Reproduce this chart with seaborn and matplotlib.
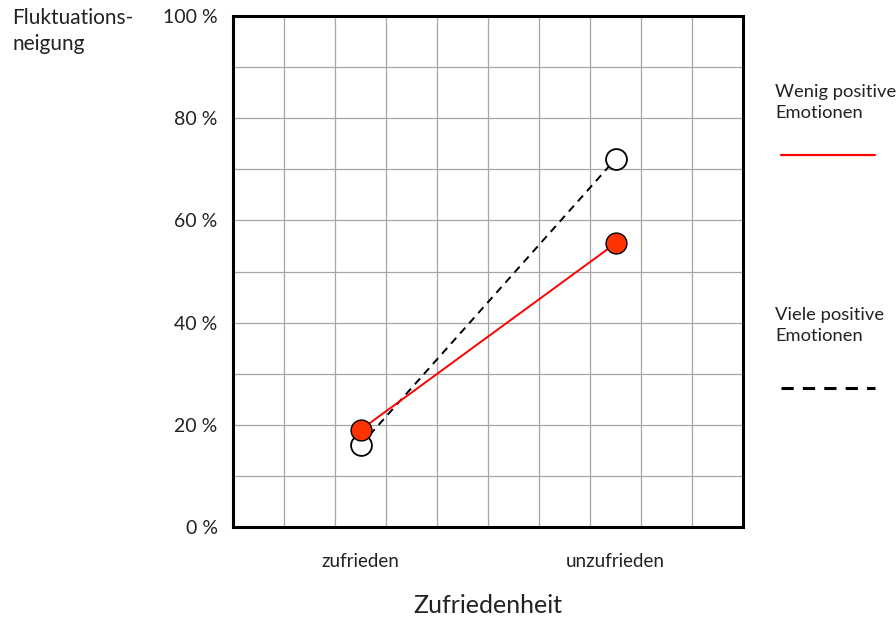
import matplotlib
matplotlib.use("Agg")
import matplotlib.pyplot as plt
from matplotlib.lines import Line2D
from matplotlib.ticker import MultipleLocator, FuncFormatter
import seaborn as sns
import pandas as pd
import numpy as np

# Daten
kategorien = ["zufrieden", "unzufrieden"]
wenig_positiv = [19, 55.5]
viele_positiv = [16, 72]

sns.set_style("white")
plt.rcParams['font.family'] = ['Lato', 'DejaVu Sans']

df = pd.DataFrame({
    "pos": np.arange(len(kategorien)).tolist() * 2,
    "wert": wenig_positiv + viele_positiv,
    "gruppe": ["Wenig"] * 2 + ["Viele"] * 2,
})

fig = plt.figure(figsize=(8.96, 6.21), dpi=100)
ax = fig.add_axes([233 / 896, 1 - 527 / 621, 510 / 896, 511 / 621])

# Viele positive Emotionen (gestrichelt, weisse Punkte)
sns.lineplot(data=df[df.gruppe == "Viele"], x="pos", y="wert", ax=ax,
             color="black", linestyle=(0, (4, 3)), linewidth=1.4,
             marker="o", markersize=15, markerfacecolor="white",
             markeredgecolor="black", markeredgewidth=1.3, zorder=3)

# Wenig positive Emotionen (rot, rote Punkte)
sns.lineplot(data=df[df.gruppe == "Wenig"], x="pos", y="wert", ax=ax,
             color="#ff0000", linewidth=1.4,
             marker="o", markersize=15, markerfacecolor="#ff3300",
             markeredgecolor="black", markeredgewidth=1.0, zorder=4)

ax.set_xlim(-0.5, 1.5)
ax.set_ylim(0, 100)

# Gitter
ax.yaxis.set_major_locator(MultipleLocator(20))
ax.set_xticks(range(len(kategorien)))
ax.set_xticklabels(kategorien)
for v in np.arange(-0.3, 1.5, 0.2):
    ax.axvline(v, color="#a6a6a6", linewidth=0.9, zorder=1)
for h in range(10, 100, 10):
    ax.axhline(h, color="#a6a6a6", linewidth=0.9, zorder=1)

ax.yaxis.set_major_formatter(FuncFormatter(lambda v, p: f"{int(v)} %"))
ax.tick_params(axis="x", length=0, pad=19, labelsize=13.5, colors="#222222")
ax.tick_params(axis="y", length=0, pad=11, labelsize=14, colors="#222222")

for s in ax.spines.values():
    s.set_linewidth(2.2)
    s.set_color("black")
    s.set_zorder(5)

ax.set_xlabel("Zufriedenheit", fontsize=18, labelpad=17, color="#222222")
ax.set_ylabel("")

fig.text(12 / 896, 1 - 8 / 621, "Fluktuations-\nneigung", fontsize=15,
         ha="left", va="top", color="#222222", linespacing=1.35)

# Legende
fig.text(775 / 896, 1 - 84 / 621, "Wenig positive\nEmotionen", fontsize=13.2,
         ha="left", va="top", color="#222222", linespacing=1.4)
fig.add_artist(Line2D([781 / 896, 875 / 896], [1 - 155 / 621] * 2,
                      color="#ff0000", linewidth=1.6))
fig.text(775 / 896, 1 - 307 / 621, "Viele positive\nEmotionen", fontsize=13.2,
         ha="left", va="top", color="#222222", linespacing=1.4)
fig.add_artist(Line2D([781 / 896, 875 / 896], [1 - 388 / 621] * 2,
                      color="black", linewidth=2.2, linestyle=(0, (4, 3))))

fig.savefig("out.png", dpi=100)
plt.close(fig)
